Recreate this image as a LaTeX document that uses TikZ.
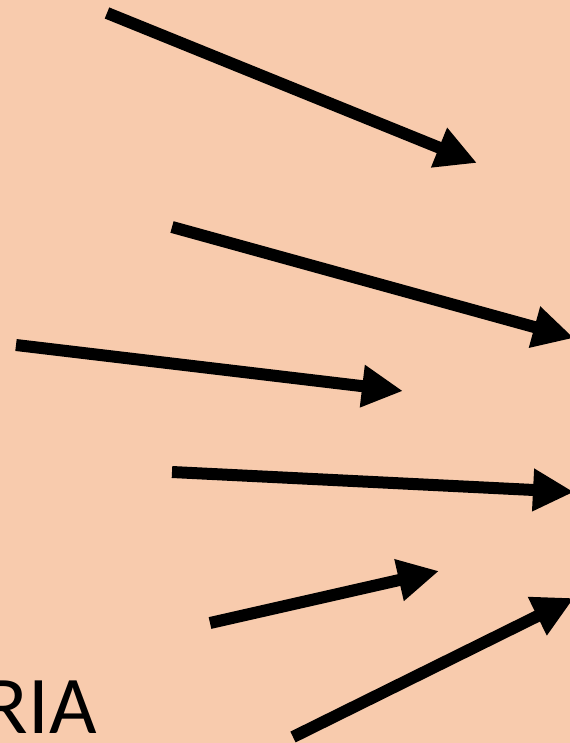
\documentclass[tikz,border=0pt]{standalone}
\usepackage{fontspec}
\setmainfont{Carlito}
\usetikzlibrary{arrows.meta}
\definecolor{mypeach}{RGB}{248,203,173}
\definecolor{mydark}{RGB}{0,0,0}
\tikzset{
  arrow/.style={-{Triangle[length=0.82cm,width=0.8cm]}, line width=0.24cm, color=mydark},
  bigtext/.style={font=\fontsize{46.7}{50}\selectfont, text=mydark, inner sep=0pt}
}
\begin{document}
\begin{tikzpicture}[x=0.02cm, y=-0.02cm]
    % Background
    \fill[mypeach] (0,0) rectangle (570,743);
    \useasboundingbox (0,0) rectangle (570,743);
    \clip (0,0) rectangle (570,743);

    % Tails
    \coordinate (t1) at (107,13);
    \coordinate (t2) at (172,227);
    \coordinate (t3) at (16,345);
    \coordinate (t4) at (172,472);
    \coordinate (t5) at (210,623);
    \coordinate (t6) at (293,737);

    % Tips
    \coordinate (h1) at (477,163);
    \coordinate (h2) at (574,338);
    \coordinate (h3) at (403,391);
    \coordinate (h4) at (574,492);
    \coordinate (h5) at (439,571);
    \coordinate (h6) at (574,598);

    % Arrows
    \draw[arrow] (t1) -- (h1);
    \draw[arrow] (t2) -- (h2);
    \draw[arrow] (t3) -- (h3);
    \draw[arrow] (t4) -- (h4);
    \draw[arrow] (t5) -- (h5);
    \draw[arrow] (t6) -- (h6);

    % Label
    \node[bigtext, anchor=base east] (lbl) at (97,733) {RIA};
\end{tikzpicture}
\end{document}
